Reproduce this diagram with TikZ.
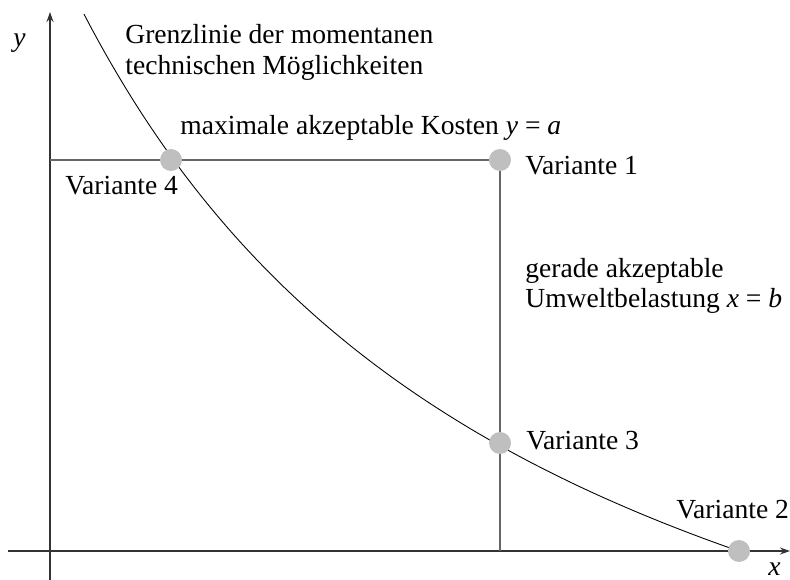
\documentclass[tikz,border=0pt]{standalone}
\usepackage{fontspec}
\setmainfont{Liberation Serif}
\usepackage{tikz}
\usetikzlibrary{arrows.meta}

\tikzset{
  txt/.style={anchor=base west,inner sep=0pt,font=\fontsize{15.7}{19}\selectfont},
  achse/.style={draw=black!80,line width=0.8pt,-{Stealth[length=2mm,width=1.4mm]}},
  grenze/.style={draw=black!60,line width=1.1pt},
  variante/.style={circle,fill=black!25,inner sep=0pt,minimum size=0.44cm}
}

\begin{document}
\begin{tikzpicture}[x=0.02cm,y=-0.02cm]
        \useasboundingbox (0,0) rectangle (790,580);
        % Punkte
        \coordinate (p1) at (500,160);
        \coordinate (p2) at (739,551);
        \coordinate (p3) at (500,443);
        \coordinate (p4) at (171,160);
        \coordinate (ya) at (50,160);
        \coordinate (xb) at (500,551);
        \coordinate (xs) at (8,551);
        \coordinate (xe) at (790,551);
        \coordinate (ys) at (50,580);
        \coordinate (ye) at (50,12);
        % Achsen
        \draw[achse] (xs) -- (xe);
        \draw[achse] (ys) -- (ye);
        % Grenzen y=a und x=b
        \draw[grenze] (ya) -- (p1);
        \draw[grenze] (p1) -- (xb);
        % Grenzlinie
        \draw[black,line width=0.5pt] plot[domain=84:739,samples=80,smooth] (\x,{948-452/((\x+400)/1000)});
        \node[variante] (v1) at (p1) {};
        \node[variante] (v2) at (p2) {};
        \node[variante] (v3) at (p3) {};
        \node[variante] (v4) at (p4) {};
        % Texte
        \node[txt] (ylab) at (13,47) {\textit{y}};
        \node[txt] (xlab) at (768,575) {\textit{x}};
        \node[txt] (gl1) at (125,44) {Grenzlinie der momentanen};
        \node[txt] (gl2) at (125,75) {technischen Möglichkeiten};
        \node[txt] (kost) at (180,135) {maximale akzeptable Kosten \textit{y} = \textit{a}};
        \node[txt] (l1) at (525,175) {Variante 1};
        \node[txt] (l4) at (65,195) {Variante 4};
        \node[txt] (um1) at (525,278) {gerade akzeptable};
        \node[txt] (um2) at (525,308) {Umweltbelastung \textit{x} = \textit{b}};
        \node[txt] (l3) at (526,449) {Variante 3};
        \node[txt] (l2) at (676,518) {Variante 2};
\end{tikzpicture}
\end{document}
